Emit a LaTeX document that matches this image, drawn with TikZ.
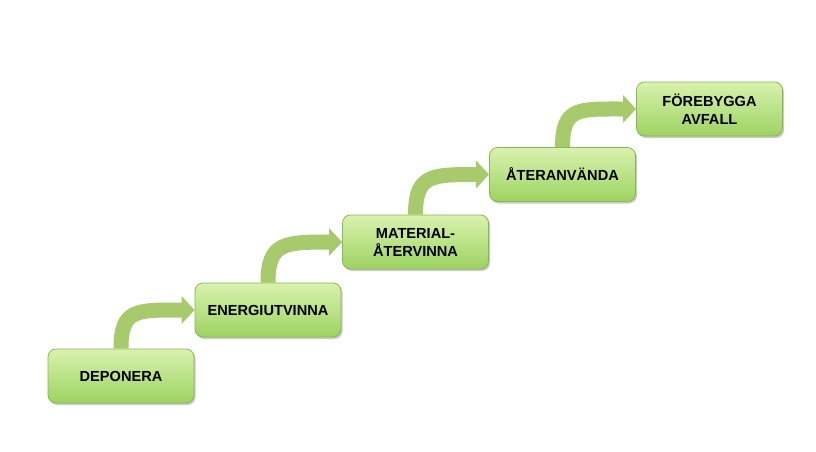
\documentclass[tikz,border=0pt]{standalone}
\usepackage{fontspec}
\setmainfont{Liberation Sans}
\usetikzlibrary{arrows.meta,shadows,positioning}
\definecolor{boxtop}{HTML}{D9F2AE}
\definecolor{boxbot}{HTML}{9DD362}
\definecolor{boxline}{HTML}{86B84E}
\definecolor{arrowgreen}{HTML}{A6CA6C}
\tikzset{
  stepbox/.style={rectangle, rounded corners=8pt, draw=boxline, line width=0.8pt,
    top color=boxtop, bottom color=boxbot, minimum width=146pt, minimum height=54pt,
    align=center, inner sep=2pt,
    font=\fontsize{14.6pt}{18pt}\selectfont\bfseries,
    drop shadow={shadow xshift=1.5pt, shadow yshift=-2pt, opacity=0.35, fill=black!60}},
  stair/.style={draw=arrowgreen, line width=15pt,
    -{Triangle[width=27pt,length=13pt]}}
}
\begin{document}
\begin{tikzpicture}[x=1pt,y=-1pt]
\useasboundingbox (0,0) rectangle (816,451);
\node[stepbox] (a) at (121,376) {DEPONERA};
\node[stepbox] (b) at (268,310) {ENERGIUTVINNA};
\node[stepbox] (c) at (415.5,242) {MATERIAL-\\ÅTERVINNA};
\node[stepbox] (d) at (562.5,174.5) {ÅTERANVÄNDA};
\node[stepbox] (e) at (709.5,109) {FÖREBYGGA\\AVFALL};
\draw[stair] (a.north) .. controls +(0,-40) and +(-58,0) .. (b.west);
\draw[stair] (b.north) .. controls +(0,-40) and +(-58,0) .. (c.west);
\draw[stair] (c.north) .. controls +(0,-40) and +(-58,0) .. (d.west);
\draw[stair] (d.north) .. controls +(0,-40) and +(-58,0) .. (e.west);
\end{tikzpicture}
\end{document}
